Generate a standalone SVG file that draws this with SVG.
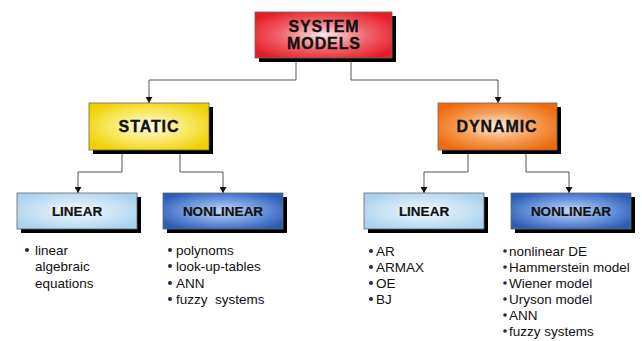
<svg xmlns="http://www.w3.org/2000/svg" width="642" height="341" viewBox="0 0 642 341">
<defs>
<radialGradient id="gRed" cx="50%" cy="50%" r="60%"><stop offset="0" stop-color="#fde8ea"/><stop offset="0.55" stop-color="#f06068"/><stop offset="1" stop-color="#e41e26"/></radialGradient>
<radialGradient id="gYel" cx="50%" cy="50%" r="60%"><stop offset="0" stop-color="#fffbe8"/><stop offset="0.55" stop-color="#f8e860"/><stop offset="1" stop-color="#f0d000"/></radialGradient>
<radialGradient id="gOra" cx="50%" cy="50%" r="60%"><stop offset="0" stop-color="#fdeee0"/><stop offset="0.55" stop-color="#f59a50"/><stop offset="1" stop-color="#ee6a0c"/></radialGradient>
<radialGradient id="gLb" cx="50%" cy="50%" r="60%"><stop offset="0" stop-color="#f4faff"/><stop offset="1" stop-color="#a8d2ee"/></radialGradient>
<radialGradient id="gDb" cx="50%" cy="50%" r="60%"><stop offset="0" stop-color="#c4daf8"/><stop offset="0.55" stop-color="#6a94dc"/><stop offset="1" stop-color="#2c5cb4"/></radialGradient>
<marker id="arr" viewBox="0 0 6 7" refX="6" refY="3.5" markerWidth="6" markerHeight="7" orient="auto" markerUnits="userSpaceOnUse"><path d="M0,0 L6,3.5 L0,7 Z" fill="#111"/></marker>
</defs>
<style>
.sh{fill:#000}
.bx{stroke:#666;stroke-width:0.8}
.t1{font-family:"Liberation Sans",Arial,sans-serif;font-weight:bold;font-size:16px;letter-spacing:0.9px;fill:#111;stroke:#111;stroke-width:0.35;text-anchor:middle}
.t2{font-family:"Liberation Sans",Arial,sans-serif;font-weight:bold;font-size:13.5px;fill:#111;stroke:#111;stroke-width:0.2;text-anchor:middle}
.li{font-family:"Liberation Sans",Arial,sans-serif;font-size:13.5px;fill:#111}
.bu{fill:#1c2460}
.cn{fill:none;stroke:#555;stroke-width:1;marker-end:url(#arr)}
</style>
<rect width="642" height="341" fill="#fff"/>
<g id="connectors">
<path class="cn" d="M296 58 V80 H149 V103"/>
<path class="cn" d="M351 58 V80 H498 V103"/>
<path class="cn" d="M122 150 V172 H78 V193"/>
<path class="cn" d="M180 150 V172 H223 V193"/>
<path class="cn" d="M468 150 V172 H424 V193"/>
<path class="cn" d="M526 150 V172 H569 V193"/>
</g>
<g id="system-models">
<rect class="sh" x="259" y="16" width="137" height="46"/>
<rect class="bx" x="255" y="12" width="137" height="46" fill="url(#gRed)"/>
<text class="t1" x="324" y="32">SYSTEM</text>
<text class="t1" x="324" y="49">MODELS</text>
</g>
<g id="static">
<rect class="sh" x="93" y="107" width="120" height="47"/>
<rect class="bx" x="89" y="103" width="120" height="47" fill="url(#gYel)"/>
<text class="t1" x="149" y="132">STATIC</text>
</g>
<g id="dynamic">
<rect class="sh" x="442" y="107" width="119" height="47"/>
<rect class="bx" x="438" y="103" width="119" height="47" fill="url(#gOra)"/>
<text class="t1" x="497" y="132">DYNAMIC</text>
</g>
<g id="static-linear">
<rect class="sh" x="21" y="197" width="120" height="36"/>
<rect class="bx" x="17" y="193" width="120" height="36" fill="url(#gLb)"/>
<text class="t2" x="77" y="216">LINEAR</text>
<circle class="bu" cx="27" cy="250" r="2"/>
<text class="li" x="35" y="255">linear</text>
<text class="li" x="35" y="271">algebraic</text>
<text class="li" x="35" y="288">equations</text>
</g>
<g id="static-nonlinear">
<rect class="sh" x="167" y="197" width="120" height="36"/>
<rect class="bx" x="163" y="193" width="120" height="36" fill="url(#gDb)"/>
<text class="t2" x="223" y="216">NONLINEAR</text>
<circle class="bu" cx="170" cy="250" r="2"/>
<text class="li" x="176" y="255">polynoms</text>
<circle class="bu" cx="170" cy="266" r="2"/>
<text class="li" x="176" y="271">look-up-tables</text>
<circle class="bu" cx="170" cy="283" r="2"/>
<text class="li" x="176" y="288">ANN</text>
<circle class="bu" cx="170" cy="299" r="2"/>
<text class="li" x="176" y="304">fuzzy&#160; systems</text>
</g>
<g id="dynamic-linear">
<rect class="sh" x="368" y="197" width="120" height="36"/>
<rect class="bx" x="364" y="193" width="120" height="36" fill="url(#gLb)"/>
<text class="t2" x="424" y="216">LINEAR</text>
<circle class="bu" cx="371" cy="251" r="2"/>
<text class="li" x="376" y="256">AR</text>
<circle class="bu" cx="371" cy="267" r="2"/>
<text class="li" x="376" y="272">ARMAX</text>
<circle class="bu" cx="371" cy="283" r="2"/>
<text class="li" x="376" y="288">OE</text>
<circle class="bu" cx="371" cy="299" r="2"/>
<text class="li" x="376" y="304">BJ</text>
</g>
<g id="dynamic-nonlinear">
<rect class="sh" x="515" y="197" width="120" height="36"/>
<rect class="bx" x="511" y="193" width="120" height="36" fill="url(#gDb)"/>
<text class="t2" x="571" y="216">NONLINEAR</text>
<circle class="bu" cx="505" cy="251" r="1.8"/>
<text class="li" x="509" y="256" font-size="14">nonlinear DE</text>
<circle class="bu" cx="505" cy="267" r="1.8"/>
<text class="li" x="509" y="272" font-size="14">Hammerstein model</text>
<circle class="bu" cx="505" cy="283" r="1.8"/>
<text class="li" x="509" y="288" font-size="14">Wiener model</text>
<circle class="bu" cx="505" cy="299" r="1.8"/>
<text class="li" x="509" y="304" font-size="14">Uryson model</text>
<circle class="bu" cx="505" cy="315" r="1.8"/>
<text class="li" x="509" y="320" font-size="14">ANN</text>
<circle class="bu" cx="505" cy="331" r="1.8"/>
<text class="li" x="509" y="336" font-size="14">fuzzy systems</text>
</g>
</svg>
